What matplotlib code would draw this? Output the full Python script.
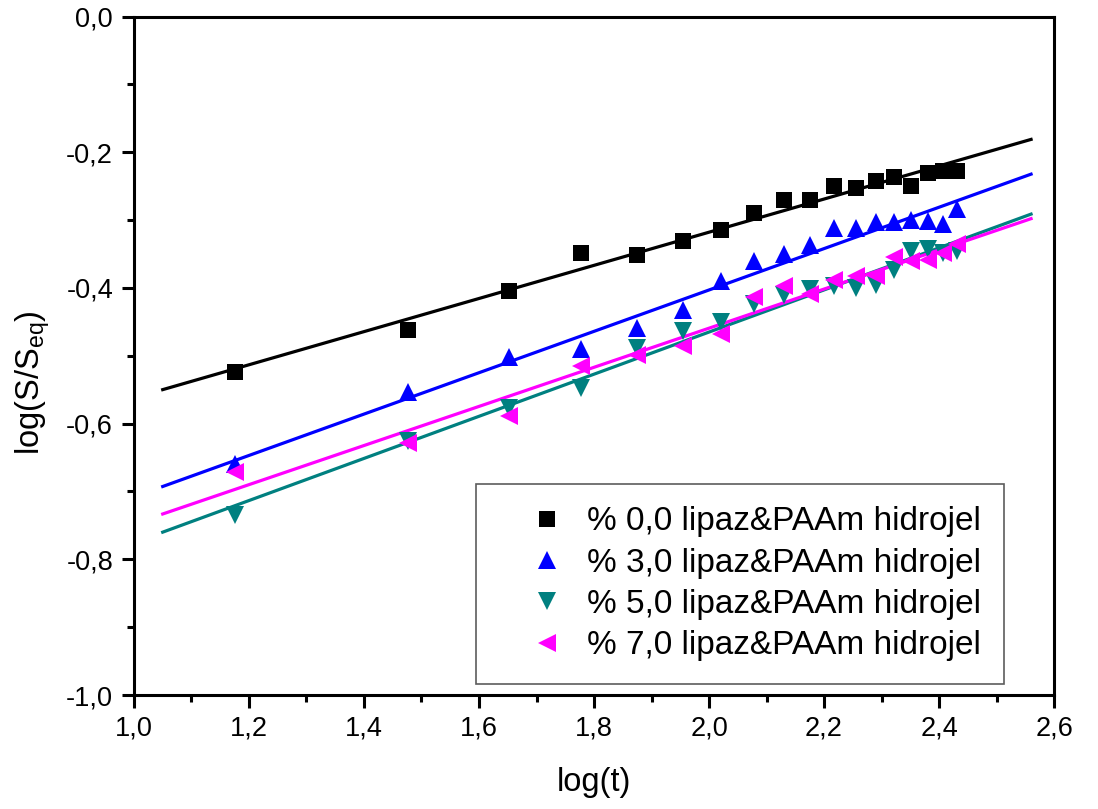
import matplotlib
matplotlib.use('Agg')
import matplotlib.pyplot as plt
import numpy as np
from matplotlib.ticker import MultipleLocator, FuncFormatter

plt.rcParams['font.family'] = ['Liberation Sans', 'DejaVu Sans']
plt.rcParams['mathtext.default'] = 'regular'

# log(t) values, t = 15 ... 270 min
log_t = [1.176, 1.477, 1.653, 1.778, 1.875, 1.954, 2.021, 2.079, 2.130,
         2.176, 2.217, 2.255, 2.290, 2.322, 2.352, 2.380, 2.407, 2.431]

# log(S/Seq) for each hydrogel
s_00 = [-0.524, -0.462, -0.405, -0.348, -0.352, -0.331, -0.314, -0.289, -0.271,
        -0.271, -0.250, -0.253, -0.243, -0.236, -0.249, -0.231, -0.227, -0.227]
s_30 = [-0.660, -0.554, -0.502, -0.490, -0.459, -0.433, -0.390, -0.361, -0.350,
        -0.336, -0.312, -0.312, -0.303, -0.303, -0.300, -0.302, -0.306, -0.284]
s_50 = [-0.734, -0.626, -0.577, -0.547, -0.488, -0.463, -0.450, -0.424, -0.411,
        -0.401, -0.397, -0.400, -0.395, -0.373, -0.346, -0.342, -0.348, -0.346]
s_70 = [-0.671, -0.629, -0.589, -0.515, -0.499, -0.485, -0.468, -0.413, -0.397,
        -0.409, -0.389, -0.383, -0.382, -0.355, -0.361, -0.359, -0.348, -0.335]

labels = ['% 0,0 lipaz&PAAm hidrojel', '% 3,0 lipaz&PAAm hidrojel',
          '% 5,0 lipaz&PAAm hidrojel', '% 7,0 lipaz&PAAm hidrojel']
colors = ['black', '#0000FF', '#008080', '#FF00FF']
markers = ['s', '^', 'v', '<']
sizes = [11, 13, 13, 13]

# range of the fitted lines
fit_range = [1.05, 2.56]

fig = plt.figure(figsize=(10.98, 8.09), dpi=100)
ax = fig.add_axes([0.122, 0.1409, 0.838, 0.8386])

x = np.array(log_t)
xf = np.array(fit_range)
handles = []
for ys, c, m, ms, lab in zip([s_00, s_30, s_50, s_70], colors, markers, sizes, labels):
    ys = np.array(ys)
    # linear fit through the points
    k, b = np.polyfit(x, ys, 1)
    ax.plot(xf, k * xf + b, '-', color=c, lw=2.3, zorder=2)
    h, = ax.plot(x, ys, linestyle='none', marker=m, ms=ms, color=c,
                 markeredgewidth=0, label=lab, zorder=3)
    handles.append(h)

ax.set_xlim(1.0, 2.6)
ax.set_ylim(-1.0, 0.0)
ax.xaxis.set_major_locator(MultipleLocator(0.2))
ax.xaxis.set_minor_locator(MultipleLocator(0.1))
ax.yaxis.set_major_locator(MultipleLocator(0.2))
ax.yaxis.set_minor_locator(MultipleLocator(0.1))
comma = FuncFormatter(lambda v, p: '{:.1f}'.format(v).replace('.', ','))
ax.xaxis.set_major_formatter(comma)
ax.yaxis.set_major_formatter(comma)

ax.tick_params(which='both', direction='out', top=False, right=False, width=2.2,
               labelsize=19.5)
ax.tick_params(which='major', length=9, pad=6)
ax.tick_params(which='minor', length=5)
for sp in ax.spines.values():
    sp.set_linewidth(2.2)

ax.set_xlabel('log(t)', fontsize=23.5, labelpad=18)
ax.set_ylabel('log(S/S$_{eq}$)', fontsize=23.5)
ax.yaxis.set_label_coords(-0.089, 0.46)

leg = ax.legend(handles=handles, loc='lower right', bbox_to_anchor=(0.9457, 0.0162),
                fontsize=24, frameon=True, fancybox=False, borderpad=0.68,
                labelspacing=0.31, handlelength=2.9, handletextpad=-0.25,
                borderaxespad=0)
leg.get_frame().set_edgecolor('#333333')
leg.get_frame().set_linewidth(1.2)

fig.savefig('out.png', dpi=100)
